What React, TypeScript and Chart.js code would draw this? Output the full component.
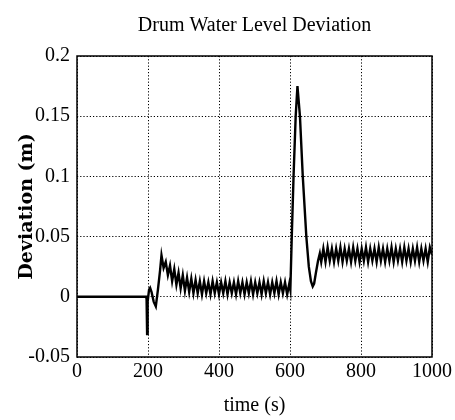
import React, { useEffect, useRef } from "react";
import { Chart, registerables } from "chart.js";

Chart.register(...registerables);

const TITLE = "Drum Water Level Deviation";
const X_TITLE = "time (s)";
const Y_TITLE = "Deviation (m)";

const xTicks = [0, 200, 400, 600, 800, 1000];
const xTickLabels = ["0", "200", "400", "600", "800", "1000"];
const yTicks = [-0.05, 0, 0.05, 0.1, 0.15, 0.2];
const yTickLabels = ["-0.05", "0", "0.05", "0.1", "0.15", "0.2"];

// Segment 1: steady zero and first disturbance near t = 200 s
const timesStart = [0, 195, 196, 197.5, 199, 203, 206, 210, 216, 222, 228, 234, 238];
const valuesStart = [0, 0, -0.002, -0.031, -0.004, 0.006, 0.0075, 0.004, -0.004, -0.008, 0.006, 0.022, 0.0345];

// Segment 2: decaying ripple between the disturbances
const timesRipple1 = [
  244, 250, 256, 262, 268, 274, 280, 286, 292, 298, 304, 310, 316, 322, 328, 334, 340, 346, 352, 358,
  364, 370, 376, 382, 388, 394, 400, 406, 412, 418, 424, 430, 436, 442, 448, 454, 460, 466, 472, 478,
  484, 490, 496, 502, 508, 514, 520, 526, 532, 538, 544, 550, 556, 562, 568, 574, 580, 586, 592, 598,
];
const valuesRipple1 = [
  0.024, 0.029, 0.018, 0.026, 0.013, 0.023, 0.010, 0.020, 0.007, 0.018, 0.005, 0.016, 0.004, 0.015, 0.003, 0.014, 0.003, 0.013, 0.002, 0.013,
  0.003, 0.012, 0.002, 0.013, 0.003, 0.012, 0.002, 0.012, 0.003, 0.013, 0.002, 0.012, 0.003, 0.012, 0.002, 0.013, 0.003, 0.012, 0.002, 0.012,
  0.003, 0.013, 0.002, 0.012, 0.003, 0.012, 0.002, 0.013, 0.003, 0.012, 0.002, 0.012, 0.003, 0.013, 0.002, 0.012, 0.003, 0.012, 0.002, 0.011,
];

// Segment 3: second disturbance near t = 600 s
const timesSpike = [601, 605, 610, 616, 621, 628, 636, 646, 653, 659, 664, 668, 673, 679, 684];
const valuesSpike = [0.006, 0.05, 0.1, 0.15, 0.175, 0.15, 0.1, 0.05, 0.025, 0.013, 0.0086, 0.011, 0.02, 0.03, 0.036];

// Segment 4: ripple at the new level
const timesRipple2 = [
  688, 694, 700, 706, 712, 718, 724, 730, 736, 742, 748, 754, 760, 766, 772, 778, 784, 790, 796, 802,
  808, 814, 820, 826, 832, 838, 844, 850, 856, 862, 868, 874, 880, 886, 892, 898, 904, 910, 916, 922,
  928, 934, 940, 946, 952, 958, 964, 970, 976, 982, 988, 994, 1000,
];
const valuesRipple2 = [
  0.029, 0.040, 0.029, 0.041, 0.030, 0.040, 0.029, 0.040, 0.030, 0.041, 0.029, 0.040, 0.030, 0.040, 0.029, 0.041, 0.030, 0.040, 0.029, 0.040,
  0.030, 0.041, 0.029, 0.040, 0.030, 0.040, 0.029, 0.041, 0.030, 0.040, 0.029, 0.040, 0.030, 0.041, 0.029, 0.040, 0.030, 0.040, 0.029, 0.041,
  0.030, 0.040, 0.029, 0.040, 0.030, 0.041, 0.029, 0.040, 0.030, 0.040, 0.029, 0.041, 0.035,
];

const times = [...timesStart, ...timesRipple1, ...timesSpike, ...timesRipple2];
const values = [...valuesStart, ...valuesRipple1, ...valuesSpike, ...valuesRipple2];

const SERIF = "'Liberation Serif', 'Times New Roman', serif";

const boxPlugin = {
  id: "boxFrame",
  afterDraw(chart: any) {
    const { ctx, chartArea } = chart;
    const { left, top, right, bottom } = chartArea;
    ctx.save();
    ctx.strokeStyle = "#000";
    ctx.lineWidth = 1.5;
    ctx.setLineDash([]);
    ctx.strokeRect(left, top, right - left, bottom - top);
    ctx.restore();
  },
};

export default function App() {
  const canvasRef = useRef<HTMLCanvasElement | null>(null);

  useEffect(() => {
    if (!canvasRef.current) return;
    const data = times.map((t, i) => ({ x: t, y: values[i] }));
    const chart = new Chart(canvasRef.current, {
      type: "line",
      data: {
        datasets: [
          {
            data,
            borderColor: "#000",
            borderWidth: 2.4,
            pointRadius: 0,
            tension: 0,
            fill: false,
          },
        ],
      },
      options: {
        responsive: false,
        animation: false,
        devicePixelRatio: 1,
        layout: { padding: { left: 0, right: 19, top: 0, bottom: 0 } },
        plugins: {
          legend: { display: false },
          tooltip: { enabled: false },
          title: {
            display: true,
            text: TITLE,
            color: "#000",
            fullSize: false,
            font: { family: SERIF, size: 20, weight: "normal" },
            padding: { top: 14, bottom: 18 },
          },
        },
        scales: {
          x: {
            type: "linear",
            min: 0,
            max: 1000,
            afterBuildTicks: (s: any) => {
              s.ticks = xTicks.map((v) => ({ value: v }));
            },
            afterFit: (s: any) => {
              s.height = 63;
            },
            ticks: {
              color: "#000",
              font: { family: SERIF, size: 20 },
              padding: 3,
              maxRotation: 0,
              autoSkip: false,
              callback: (_v: any, i: number) => xTickLabels[i],
            },
            grid: { color: "#000", lineWidth: 1, drawTicks: false },
            border: { display: false, dash: [1.2, 2] },
            title: {
              display: true,
              text: X_TITLE,
              color: "#000",
              font: { family: SERIF, size: 20 },
              padding: { top: 3, bottom: 2 },
            },
          },
          y: {
            type: "linear",
            min: -0.05,
            max: 0.2,
            afterBuildTicks: (s: any) => {
              s.ticks = yTicks.map((v) => ({ value: v }));
            },
            afterFit: (s: any) => {
              s.width = 77;
            },
            ticks: {
              color: "#000",
              font: { family: SERIF, size: 20 },
              padding: 7,
              autoSkip: false,
              callback: (_v: any, i: number) => yTickLabels[i],
            },
            grid: { color: "#000", lineWidth: 1, drawTicks: false },
            border: { display: false, dash: [1.2, 2] },
            title: {
              display: true,
              text: Y_TITLE,
              color: "#000",
              font: { family: "'DejaVu Serif', serif", size: 19, weight: "bold" },
              padding: { top: 16, bottom: 0 },
            },
          },
        },
      },
      plugins: [boxPlugin],
    });
    return () => chart.destroy();
  }, []);

  return (
    <div style={{ position: "absolute", left: 0, top: 0, width: 455, height: 420, background: "#fff" }}>
      <canvas ref={canvasRef} width={455} height={420} />
    </div>
  );
}
